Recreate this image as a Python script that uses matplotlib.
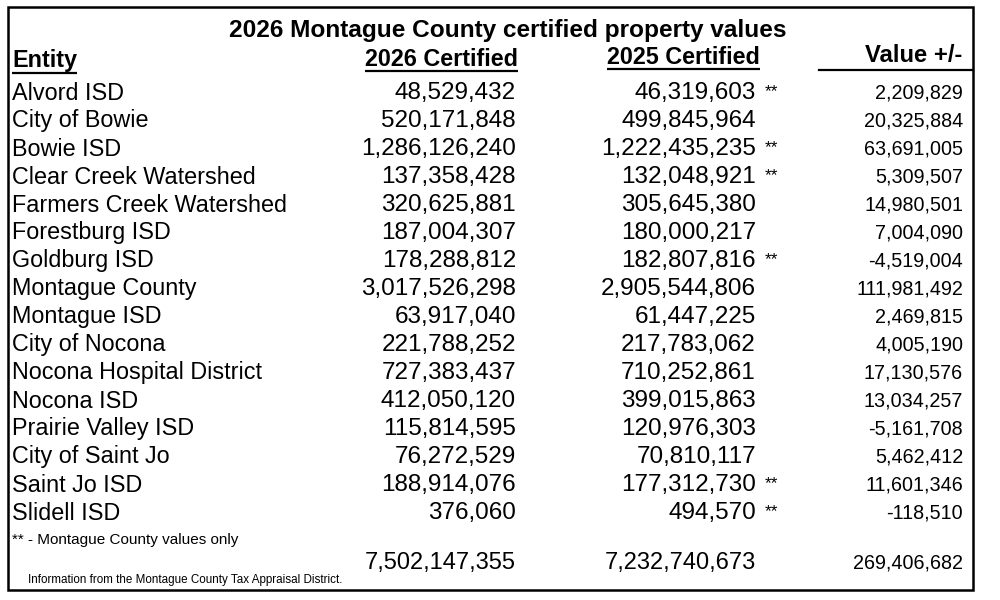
import matplotlib
matplotlib.use("Agg")
import matplotlib.pyplot as plt

entities = ["Alvord ISD", "City of Bowie", "Bowie ISD", "Clear Creek Watershed",
            "Farmers Creek Watershed", "Forestburg ISD", "Goldburg ISD", "Montague County",
            "Montague ISD", "City of Nocona", "Nocona Hospital District", "Nocona ISD",
            "Prairie Valley ISD", "City of Saint Jo", "Saint Jo ISD", "Slidell ISD"]
certified_2026 = [48529432, 520171848, 1286126240, 137358428, 320625881, 187004307,
                  178288812, 3017526298, 63917040, 221788252, 727383437, 412050120,
                  115814595, 76272529, 188914076, 376060]
certified_2025 = [46319603, 499845964, 1222435235, 132048921, 305645380, 180000217,
                  182807816, 2905544806, 61447225, 217783062, 710252861, 399015863,
                  120976303, 70810117, 177312730, 494570]
value_change = [2209829, 20325884, 63691005, 5309507, 14980501, 7004090, -4519004,
                111981492, 2469815, 4005190, 17130576, 13034257, -5161708, 5462412,
                11601346, -118510]
county_only = [True, False, True, True, False, False, True, False,
               False, False, False, False, False, False, True, True]
total_2026 = 7502147355
total_2025 = 7232740673
total_change = 269406682

title = "2026 Montague County certified property values"
headers = ["Entity", "2026 Certified", "2025 Certified", "Value +/-"]
footnote = "** - Montague County values only"
source = "Information from the Montague County Tax Appraisal District."

plt.rcParams['font.family'] = ['Liberation Sans', 'DejaVu Sans']

fig = plt.figure(figsize=(10, 6), dpi=100)
ax = fig.add_axes([0, 0, 1, 1])
ax.set_xlim(0, 1000)
ax.set_ylim(600, 0)
ax.axis("off")

# border
ax.add_patch(plt.Rectangle((8, 7), 965, 583, fill=False, lw=1.8, ec="black"))

ax.text(508, 30, title, ha="center", va="center", fontsize=17.6, fontweight="bold")

fig.canvas.draw()
renderer = fig.canvas.get_renderer()

def underlined(x, y, s, ha, uy):
    t = ax.text(x, y, s, ha=ha, va="center", fontsize=16.8, fontweight="bold")
    bb = t.get_window_extent(renderer=renderer)
    inv = ax.transData.inverted()
    (x0, _), (x1, _) = inv.transform([(bb.x0, bb.y0), (bb.x1, bb.y1)])
    ax.plot([x0, x1], [uy, uy], color="black", lw=1.6, solid_capstyle="butt")

underlined(12, 61, headers[0], "left", 73)
underlined(518, 59, headers[1], "right", 71)
underlined(760, 57, headers[2], "right", 69)
ax.text(962, 56, headers[3], ha="right", va="center", fontsize=17.2, fontweight="bold")
ax.plot([819, 973], [69.5, 69.5], color="black", lw=1.6)

row0, dy = 93, 28
for i, name in enumerate(entities):
    y = row0 + dy * i
    ax.text(12, y, name, ha="left", va="center", fontsize=16.8)
    ax.text(516, y, f"{certified_2026[i]:,}", ha="right", va="center", fontsize=17.5)
    ax.text(756, y, f"{certified_2025[i]:,}", ha="right", va="center", fontsize=17.5)
    if county_only[i]:
        ax.text(765, y - 1, "**", ha="left", va="center", fontsize=12.5)
    ax.text(963, y, f"{value_change[i]:,}", ha="right", va="center", fontsize=14.2)

ax.text(12, 540, footnote, ha="left", va="center", fontsize=11)
ax.text(516, 563, f"{total_2026:,}", ha="right", va="center", fontsize=17)
ax.text(756, 563, f"{total_2025:,}", ha="right", va="center", fontsize=17)
ax.text(963, 563, f"{total_change:,}", ha="right", va="center", fontsize=14.2)
ax.text(28, 580, source, ha="left", va="center", fontsize=8.4)

fig.savefig("out.png", dpi=100, facecolor="white")
